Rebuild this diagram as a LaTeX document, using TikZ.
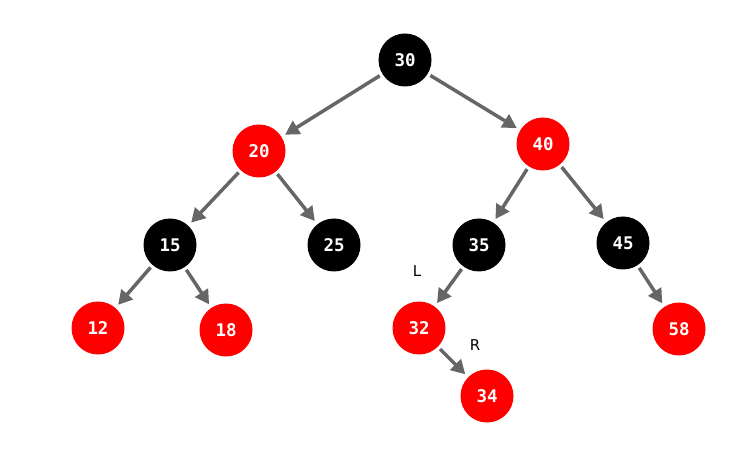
\documentclass[tikz,border=0pt]{standalone}
\usepackage{fontspec}
\setmonofont{DejaVu Sans Mono}
\newfontfamily\labelfont{DejaVu Sans}
\usetikzlibrary{arrows.meta}

\begin{document}
\begin{tikzpicture}[x=1bp, y=-1bp,
  blk/.style={circle, fill=black, minimum size=53bp, inner sep=0pt,
    text=white, font=\ttfamily\bfseries\fontsize{17.5}{20}\selectfont},
  red/.style={blk, fill=red},
  edge/.style={line width=3.5bp, draw=black!60,
    -{Triangle[length=14bp, width=15bp]}, shorten >=4bp, shorten <=3bp},
  side/.style={font=\labelfont\fontsize{15}{17}\selectfont}]
  \useasboundingbox (0,0) rectangle (756,469);

  % Nodes
  \node[blk] (n30) at (405, 60) {30};
  \node[red] (n20) at (259,151) {20};
  \node[red] (n40) at (543,144) {40};
  \node[blk] (n15) at (170,245) {15};
  \node[blk] (n25) at (334,245) {25};
  \node[blk] (n35) at (479,245) {35};
  \node[blk] (n45) at (623,243) {45};
  \node[red] (n12) at (98, 328) {12};
  \node[red] (n18) at (226,330) {18};
  \node[red] (n32) at (419,328) {32};
  \node[red] (n58) at (679,329) {58};
  \node[red] (n34) at (487,396) {34};

  % Edges
  \foreach \a/\b in {n30/n20, n30/n40, n20/n15, n20/n25, n40/n35, n40/n45,
                     n15/n12, n15/n18, n35/n32, n45/n58, n32/n34}
    \draw[edge] (\a) -- (\b);

  % Child labels
  \node[side] (lblL) at (417,271) {L};
  \node[side] (lblR) at (475,345) {R};
\end{tikzpicture}
\end{document}
